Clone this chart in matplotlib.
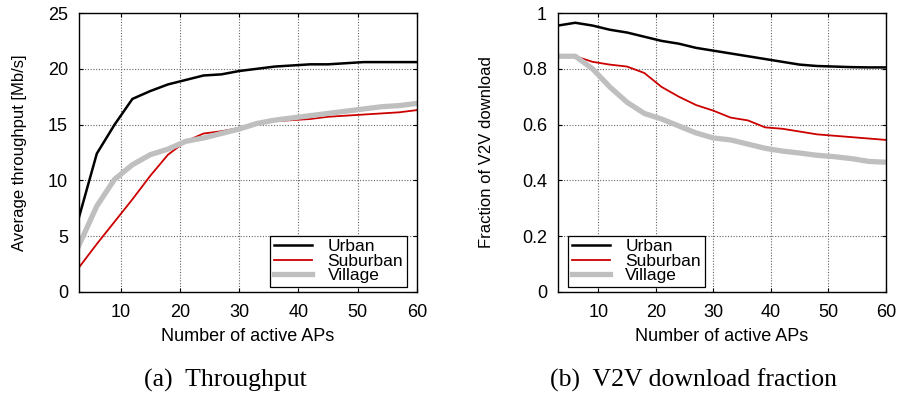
import matplotlib
matplotlib.use('Agg')
import matplotlib.pyplot as plt

plt.rcParams['font.family'] = ['Liberation Sans', 'DejaVu Sans']

aps = [3, 6, 9, 12, 15, 18, 21, 24, 27, 30, 33, 36, 39, 42, 45, 48, 51, 54, 57, 60]

# (a) throughput [Mb/s]
thr_urban = [6.7, 12.4, 15.0, 17.3, 18.0, 18.6, 19.0, 19.4, 19.5, 19.8,
             20.0, 20.2, 20.3, 20.4, 20.4, 20.5, 20.6, 20.6, 20.6, 20.6]
thr_suburban = [2.2, 4.3, 6.3, 8.3, 10.4, 12.3, 13.5, 14.2, 14.4, 14.7,
                15.1, 15.3, 15.4, 15.5, 15.7, 15.8, 15.9, 16.0, 16.1, 16.3]
thr_village = [4.2, 7.7, 10.1, 11.4, 12.3, 12.8, 13.5, 13.8, 14.2, 14.6,
               15.1, 15.4, 15.6, 15.8, 16.0, 16.2, 16.4, 16.6, 16.7, 16.9]

# (b) V2V download fraction
v2v_urban = [0.955, 0.965, 0.955, 0.94, 0.93, 0.915, 0.9, 0.89, 0.875, 0.865,
             0.855, 0.845, 0.835, 0.825, 0.815, 0.81, 0.808, 0.806, 0.805, 0.805]
v2v_suburban = [0.845, 0.845, 0.825, 0.815, 0.808, 0.785, 0.735, 0.7, 0.67, 0.65,
                0.625, 0.615, 0.59, 0.585, 0.575, 0.565, 0.56, 0.555, 0.55, 0.545]
v2v_village = [0.845, 0.845, 0.8, 0.735, 0.68, 0.64, 0.62, 0.595, 0.57, 0.552,
               0.545, 0.53, 0.515, 0.505, 0.498, 0.49, 0.485, 0.478, 0.468, 0.465]

fig = plt.figure(figsize=(9, 3.94), dpi=100)
ax1 = fig.add_axes([0.0878, 0.259, 0.3756, 0.708])
ax2 = fig.add_axes([0.620, 0.259, 0.3644, 0.708])


def style(ax, ylim, yticks, ylabel, labelpad):
    ax.set_xlim(3, 60)
    ax.set_ylim(*ylim)
    ax.set_xticks([10, 20, 30, 40, 50, 60])
    ax.set_yticks(yticks)
    ax.grid(True, color='#666666', linestyle=(0, (1, 1.5)), linewidth=0.8)
    ax.tick_params(direction='in', top=True, right=True, labelsize=13, length=3)
    ax.tick_params(axis='x', pad=9)
    ax.tick_params(axis='y', pad=8)
    for s in ax.spines.values():
        s.set_linewidth(1.0)
    ax.set_xlabel('Number of active APs', fontsize=13, labelpad=5)
    ax.set_ylabel(ylabel, fontsize=12, labelpad=labelpad)


def legend(ax, loc, anchor):
    lg = ax.legend(loc=loc, bbox_to_anchor=anchor, fontsize=12.5, frameon=True,
                   fancybox=False, edgecolor='black', framealpha=1, handlelength=2.2,
                   labelspacing=-0.04, borderpad=0.2, handletextpad=0.9,
                   borderaxespad=0.3)
    lg.get_frame().set_linewidth(0.9)


ax1.plot(aps, thr_urban, color='black', lw=1.8, label='Urban')
ax1.plot(aps, thr_suburban, color='#cc0000', lw=1.3, label='Suburban')
ax1.plot(aps, thr_village, color='#bfbfbf', lw=3.8, label='Village')
style(ax1, (0, 25), [0, 5, 10, 15, 20, 25], 'Average throughput [Mb/s]', 15)
ax1.set_yticklabels(['0', '5', '10', '15', '20', '25'])
legend(ax1, 'lower right', (0.985, 0.0))

ax2.plot(aps, v2v_urban, color='black', lw=1.8, label='Urban')
ax2.plot(aps, v2v_suburban, color='#cc0000', lw=1.3, label='Suburban')
ax2.plot(aps, v2v_village, color='#bfbfbf', lw=3.8, label='Village')
style(ax2, (0, 1), [0, 0.2, 0.4, 0.6, 0.8, 1.0], 'Fraction of V2V download', 20)
ax2.set_yticklabels(['0', '0.2', '0.4', '0.6', '0.8', '1'])
legend(ax2, 'lower left', (0.015, 0.0))

fig.text(0.2506, 0.02, '(a)  Throughput', family='Liberation Serif', fontsize=18.5, ha='center')
fig.text(0.771, 0.02, '(b)  V2V download fraction', family='Liberation Serif', fontsize=18.5, ha='center')

fig.savefig('out.png', dpi=100)
